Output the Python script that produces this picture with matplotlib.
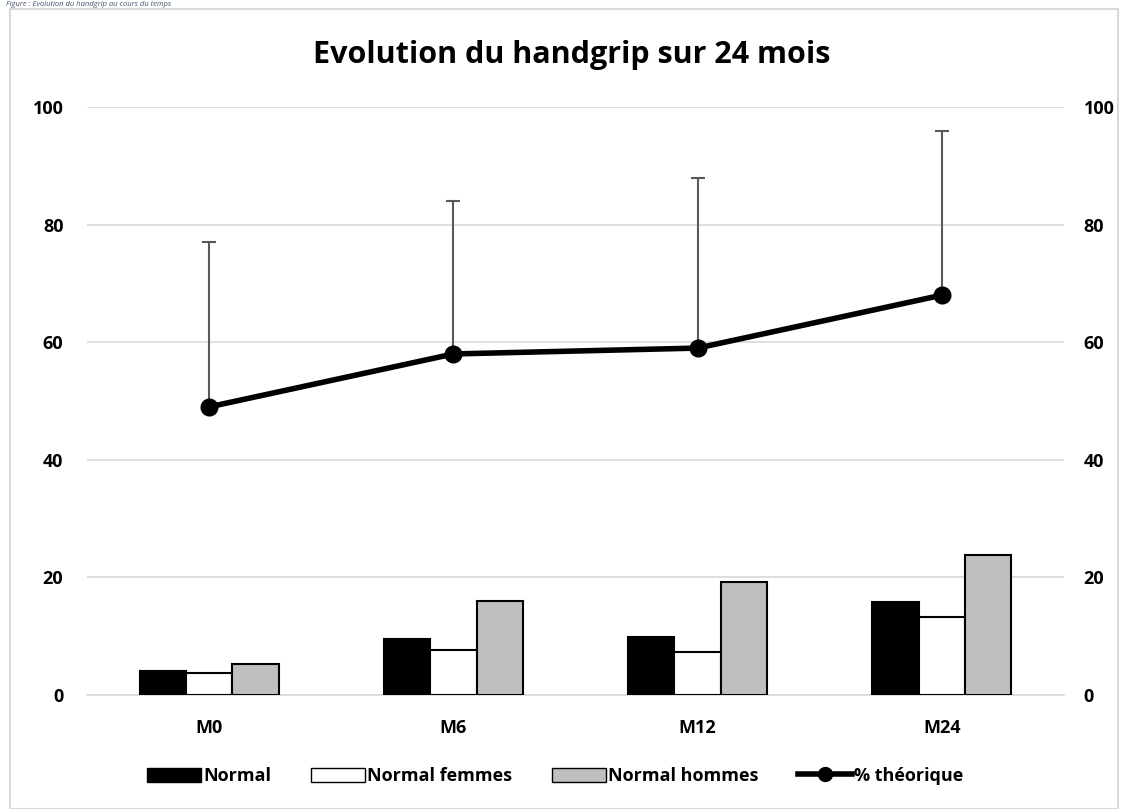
import numpy as np
import matplotlib
matplotlib.use("Agg")
import matplotlib.pyplot as plt
from matplotlib.patches import Rectangle, Patch
from matplotlib.lines import Line2D

# data
mois = ["M0", "M6", "M12", "M24"]
normal = [4.1, 9.5, 9.9, 15.9]
normal_femmes = [3.7, 7.6, 7.3, 13.3]
normal_hommes = [5.3, 16.0, 19.2, 23.8]
pct_theorique = [49, 58, 59, 68]
pct_erreur = [28, 26, 29, 28]
y_ticks = [0, 20, 40, 60, 80, 100]

plt.rcParams['font.family'] = ['Open Sans', 'DejaVu Sans']
fs = 13

fig = plt.figure(figsize=(11.23, 8.09), dpi=100)
ax = fig.add_axes([87/1123, 1-695/809, (1064-87)/1123, (695-107)/809])

x = np.arange(len(mois))
w = 0.19
ax.bar(x - w, normal, w, color="black", edgecolor="black", linewidth=1.5, zorder=3)
ax.bar(x, normal_femmes, w, color="white", edgecolor="black", linewidth=1.5, zorder=3)
ax.bar(x + w, normal_hommes, w, color="#bfbfbf", edgecolor="black", linewidth=1.5, zorder=3)

ax.errorbar(x, pct_theorique, yerr=[np.zeros(len(x)), pct_erreur], fmt="none",
            ecolor="#595959", elinewidth=1.5, capsize=5, capthick=1.5, zorder=4)
ax.plot(x, pct_theorique, color="black", linewidth=4, marker="o", markersize=12, zorder=5)

ax.set_xlim(-0.5, 3.5)
ax.set_ylim(0, 100)
ax.set_yticks(y_ticks)
ax.set_xticks(x)
ax.set_xticklabels(mois, fontsize=fs, fontweight="bold")
ax.set_yticklabels([str(t) for t in y_ticks], fontsize=fs, fontweight="bold")
ax.tick_params(axis="both", length=0)
ax.tick_params(axis="x", pad=17)
ax.tick_params(axis="y", pad=17)
ax.grid(axis="y", color="#d9d9d9", linewidth=1.2, zorder=0)
for s in ["top", "left", "right"]:
    ax.spines[s].set_visible(False)
ax.spines["bottom"].set_color("#d9d9d9")
ax.spines["bottom"].set_linewidth(1.2)

ax2 = ax.twinx()
ax2.set_ylim(0, 100)
ax2.set_yticks(y_ticks)
ax2.set_yticklabels([str(t) for t in y_ticks], fontsize=fs, fontweight="bold")
ax2.tick_params(axis="y", length=0, pad=14)
for s in ["top", "left", "right", "bottom"]:
    ax2.spines[s].set_visible(False)

fig.text(572/1123, 1-55/809, "Evolution du handgrip sur 24 mois", ha="center", va="center",
         fontsize=22, fontweight="bold")

handles = [
    Patch(facecolor="black", edgecolor="black"),
    Patch(facecolor="white", edgecolor="black"),
    Patch(facecolor="#bfbfbf", edgecolor="black"),
    Line2D([0], [0], color="black", linewidth=4, marker="o", markersize=10),
]
labels = ["Normal", "Normal femmes", "Normal hommes", "% théorique"]
fig.legend(handles, labels, loc="center", bbox_to_anchor=(555/1123, 1-776/809), ncol=4,
           frameon=False, prop={"weight": "bold", "size": fs}, handlelength=3,
           handleheight=0.8, handletextpad=0.1, columnspacing=2.2)

# chart border and caption
fig.patches.append(Rectangle((10/1123, 0), 1108/1123, 1-9/809, transform=fig.transFigure,
                             fill=False, edgecolor="#d9d9d9", linewidth=1.5))
fig.text(6/1123, 1-1/809, "Figure : Evolution du handgrip au cours du temps", ha="left",
         va="top", fontsize=5.5, style="italic", color="#44546a")

fig.savefig("out.png", dpi=100)
